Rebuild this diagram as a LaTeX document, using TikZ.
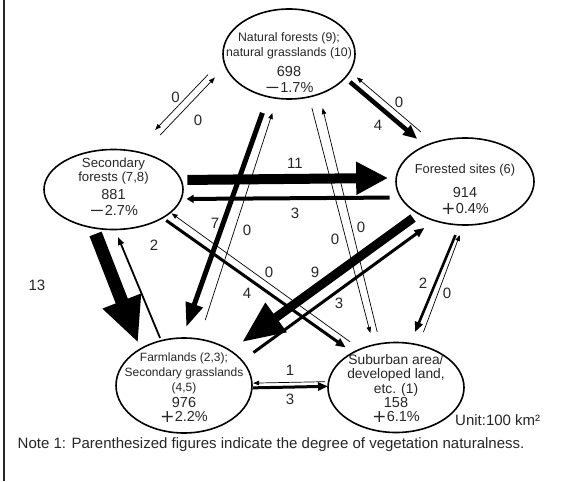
\documentclass[tikz,border=0pt]{standalone}
\usepackage{graphicx}
\usepackage{fontspec}
\setmainfont{Liberation Sans}
\newfontfamily\signfont{DejaVu Sans}
\usetikzlibrary{arrows.meta,shapes.geometric}
% wide signs used in the percentage changes
\newcommand\vmin{\scalebox{1.3}[1]{\signfont −}}
\newcommand\vpls{\raisebox{-0.07em}{\scalebox{1.2}{\signfont +}}}

\begin{document}
\begin{tikzpicture}[x=1pt,y=-1pt,
  oval/.style={ellipse, draw=black, line width=1.6pt, inner sep=0pt, outer sep=0pt},
  cattxt/.style={text=black!85, align=center, inner sep=0pt},
  valtxt/.style={text=black!85, align=center, inner sep=0pt, font=\fontsize{14.5}{16}\selectfont},
  flowlab/.style={text=black!85, inner sep=0pt, font=\fontsize{15}{18}\selectfont},
  flow/.style={draw=black},
  weak/.style={flow, line width=0.7pt, -{Triangle[length=6pt,width=4.5pt]}},
  midflow/.style={flow, line width=3pt, -{Triangle[length=10pt,width=8pt]}},
]
\useasboundingbox (0,0) rectangle (561,481);

% frame rule on the left
\draw[line width=2pt, black!85] (4,0) -- (4,481);

% land-use categories
\node[oval, minimum width=132pt, minimum height=90pt] (nat) at (289,54) {};
\node[oval, minimum width=139pt, minimum height=80pt] (sec) at (113.5,189.5) {};
\node[oval, minimum width=138pt, minimum height=87pt] (fos) at (465,181.5) {};
\node[oval, minimum width=136pt, minimum height=95pt] (far) at (184,385.5) {};
\node[oval, minimum width=136pt, minimum height=90pt] (sub) at (396,387.5) {};

\node[cattxt, font=\fontsize{12.3}{15}\selectfont] (natn) at (289,46.2) {Natural forests (9);\\natural grasslands (10)};
\node[valtxt] (natv) at (289,79.5) {698\\\vmin1.7\%};

\node[cattxt, font=\fontsize{13.2}{14}\selectfont] (secn) at (113.5,170.7) {Secondary\\forests (7,8)};
\node[valtxt] (secv) at (113.5,202) {881\\\vmin2.7\%};

\node[cattxt, font=\fontsize{12.9}{15}\selectfont] (fosn) at (465,170.3) {Forested sites (6)};
\node[valtxt] (fosv) at (465,201) {914\\\vpls0.4\%};

\node[cattxt, font=\fontsize{12}{15.3}\selectfont] (farn) at (184,373.2) {Farmlands (2,3);\\Secondary grasslands\\(4,5)};
\node[valtxt, font=\fontsize{14.5}{14.6}\selectfont] (farv) at (184,410) {976\\\vpls2.2\%};

\node[cattxt, font=\fontsize{13.8}{14.7}\selectfont] (subn) at (396,375.3) {Suburban area/\\developed land,\\etc. (1)};
\node[valtxt, font=\fontsize{14.5}{14.6}\selectfont] (subv) at (396,410) {158\\\vpls6.1\%};

% natural forests <-> secondary forests
\draw[weak, shorten <=22.2pt, shorten >=29.7pt] (nat.184.4) -- (sec.61.2);
\draw[weak, shorten <=25.2pt, shorten >=15.5pt] (sec.51.4) -- (nat.191.5);

% natural forests <-> forested sites
\draw[flow, line width=4.5pt, -{Triangle[length=14pt,width=12pt]}, shorten <=6.5pt, shorten >=10.8pt] (nat.337.0) -- (fos.138.3);
\draw[weak, shorten <=16.5pt, shorten >=9.1pt] (fos.129.1) -- (nat.344.4);

% secondary forests <-> forested sites
\draw[flow, line width=10pt, -{Triangle[length=32pt,width=31pt]}, shorten <=6.4pt, shorten >=8.1pt] (sec.8.9) -- (fos.177.9);
\draw[flow, line width=4pt, -{Triangle[length=7pt,width=8pt]}, shorten <=11.2pt, shorten >=5.6pt] (fos.194.5) -- (sec.352.9);

% secondary forests <-> farmlands
\draw[flow, line width=13pt, -{Triangle[length=45pt,width=38pt]}, shorten <=6.6pt, shorten >=6.5pt] (sec.242.6) -- (far.140.2);
\draw[flow, line width=1.8pt, -{Triangle[length=8pt,width=6pt]}, shorten <=3pt, shorten >=8.1pt] (far.117.1) -- (sec.272.0);

% natural forests <-> farmlands
\draw[flow, line width=5pt, -{Triangle[length=24pt,width=17pt]}, shorten <=17.2pt, shorten >=11.7pt] (nat.244.8) -- (far.92.4);
\draw[weak, shorten <=20.1pt, shorten >=15.4pt] (far.72.4) -- (nat.255.8);

% natural forests <-> suburban area
\draw[weak, shorten <=11.5pt, shorten >=12.5pt] (nat.295.2) -- (sub.118.4);
\draw[weak, shorten <=12.1pt, shorten >=14.5pt] (sub.110.3) -- (nat.307.5);

% forested sites <-> farmlands
\draw[flow, line width=9pt, -{Triangle[length=42pt,width=34pt]}, shorten <=7.2pt, shorten >=14.7pt] (fos.215.0) -- (far.37.1);
\draw[midflow, shorten <=14.1pt, shorten >=12.5pt] (far.23.7) -- (fos.232.7);

% forested sites <-> suburban area
\draw[midflow, line width=2.6pt, shorten <=11pt, shorten >=12.5pt] (fos.263.8) -- (sub.72.2);
\draw[weak, shorten <=13.8pt, shorten >=10.7pt] (sub.62.6) -- (fos.268.4);

% secondary forests <-> suburban area
\draw[midflow, shorten <=4.5pt, shorten >=8.8pt] (sec.330.8) -- (sub.141.9);
\draw[weak, shorten <=12.4pt, shorten >=1.5pt] (sub.133.3) -- (sec.338.5);

% farmlands <-> suburban area
\draw[weak, shorten <=3.5pt, shorten >=1.2pt] (sub.175.3) -- (far.2.95);
\draw[midflow, shorten <=1pt] (far.358.7) -- (sub.179.6);

% flow amounts
\node[flowlab] (l1) at (175.5,97) {0};
\node[flowlab] (l2) at (198,120) {0};
\node[flowlab] (l3) at (378,125) {4};
\node[flowlab] (l4) at (399,102) {0};
\node[flowlab] (l5) at (295,163) {11};
\node[flowlab] (l6) at (295,213) {3};
\node[flowlab] (l7) at (37,285) {13};
\node[flowlab] (l8) at (154,245) {2};
\node[flowlab] (l9) at (215,223) {7};
\node[flowlab] (l10) at (247,230) {0};
\node[flowlab] (l11) at (335,239) {0};
\node[flowlab] (l12) at (361,227) {0};
\node[flowlab] (l13) at (315,272) {9};
\node[flowlab] (l14) at (339,303) {3};
\node[flowlab] (l15) at (423,283) {2};
\node[flowlab] (l16) at (447,293) {0};
\node[flowlab] (l17) at (247,293) {4};
\node[flowlab] (l18) at (269,272) {0};
\node[flowlab] (l19) at (290,370) {1};
\node[flowlab] (l20) at (290,399) {3};

% unit and note
\node[flowlab, anchor=west] (unit) at (455,420) {Unit:100 km²};
\node[flowlab, anchor=west] (note) at (17.5,444.5) {Note 1: Parenthesized figures indicate the degree of vegetation naturalness.};
\end{tikzpicture}
\end{document}
